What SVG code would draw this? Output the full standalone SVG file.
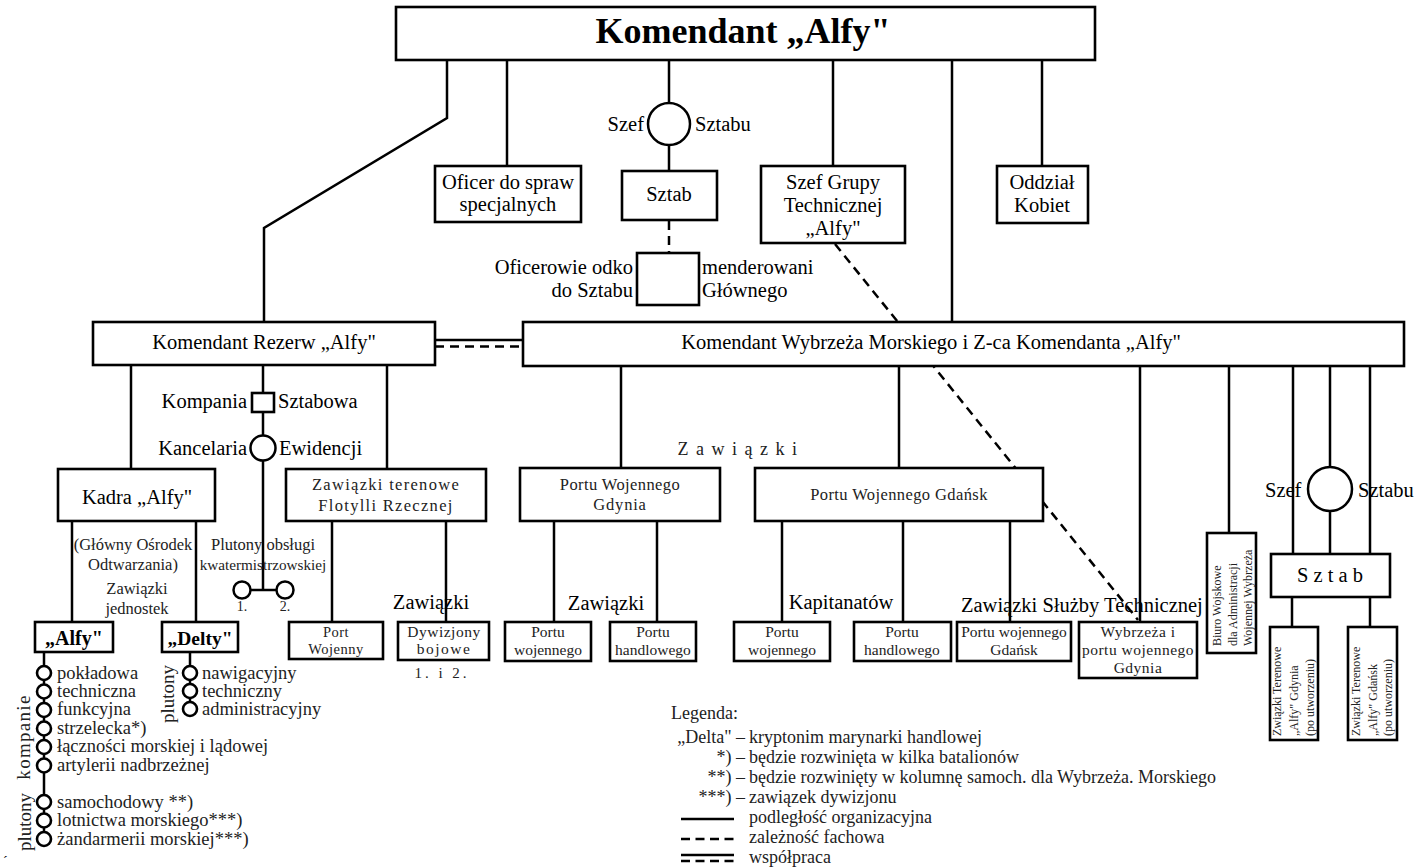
<svg xmlns="http://www.w3.org/2000/svg" width="1419" height="868" viewBox="0 0 1419 868">
<style>
text { font-family: "Liberation Serif", "Times New Roman", serif; fill: #000; }
.box { fill: #fff; stroke: #000; stroke-width: 2.6; }
.ln { stroke: #000; stroke-width: 2.5; fill: none; }
.dash { stroke: #000; stroke-width: 2.5; fill: none; stroke-dasharray: 9 6; }
.ring { fill: #fff; stroke: #000; stroke-width: 2.5; }
.chain { fill: #fff; stroke: #000; stroke-width: 2.6; }
.mid { text-anchor: middle; }
.end { text-anchor: end; }
.t20 { font-size: 20.5px; }
.t18 { font-size: 18.5px; }
.t17 { font-size: 18px; }
.t16 { font-size: 16.5px; }
.t15 { font-size: 15.5px; }
.t12 { font-size: 12px; }
.lt { fill: #222; }
.bold { font-weight: bold; }
</style>
<rect width="1419" height="868" fill="#fff"/>

<g id="connectors">
  <path class="ln" d="M447 60 V118 L264 228 V322"/>
  <path class="ln" d="M507 60 V166"/>
  <path class="ln" d="M669 60 V103 M669 145 V171"/>
  <path class="dash" d="M669 221 V253"/>
  <path class="ln" d="M833 60 V166"/>
  <path class="ln" d="M952 60 V322"/>
  <path class="ln" d="M1042 60 V166"/>
  <path class="dash" d="M835 244 L1138 620"/>
  <path class="ln" d="M435 340 H523"/>
  <path class="dash" d="M435 346.5 H523"/>
  <path class="ln" d="M131 365 V469"/>
  <path class="ln" d="M263 365 V590 M251 590 H276"/>
  <path class="ln" d="M387 365 V469"/>
  <path class="ln" d="M72 521 V622 M196 521 V622"/>
  <path class="ln" d="M332 521 V622 M446 521 V622"/>
  <path class="ln" d="M44 652 V832 M190 652 V703"/>
  <path class="ln" d="M621 366 V468 M899 366 V468 M1140 366 V622 M1229 366 V533"/>
  <path class="ln" d="M1293 366 V554 M1330 366 V467 M1330 511 V554 M1370 366 V554"/>
  <path class="ln" d="M554 521 V622 M657 521 V622 M782 521 V622 M903 521 V622 M1010 521 V622"/>
  <path class="ln" d="M1292 597 V627 M1370 597 V627"/>
</g>

<g id="n-komendant">
  <rect class="box" x="396" y="7" width="699" height="53" stroke-width="3"/>
  <text class="mid bold" x="743" y="43" font-size="36">Komendant „Alfy"</text>
</g>

<g id="n-szef-sztabu">
  <circle class="ring" cx="669" cy="124" r="21"/>
  <text class="end t20" x="644" y="131">Szef</text>
  <text class="t20" x="695" y="131">Sztabu</text>
</g>

<g id="n-oficer">
  <rect class="box" x="435" y="166" width="146" height="56"/>
  <text class="mid t20" x="508" y="189">Oficer do spraw</text>
  <text class="mid t20" x="508" y="211">specjalnych</text>
</g>

<g id="n-sztab">
  <rect class="box" x="622" y="171" width="95" height="49"/>
  <text class="mid t20" x="669" y="201">Sztab</text>
</g>

<g id="n-szef-grupy">
  <rect class="box" x="761" y="166" width="144" height="77"/>
  <text class="mid t20" x="833" y="189">Szef Grupy</text>
  <text class="mid t20" x="833" y="212">Technicznej</text>
  <text class="mid t20" x="833" y="235">„Alfy"</text>
</g>

<g id="n-oddzial">
  <rect class="box" x="997" y="166" width="91" height="57"/>
  <text class="mid t20" x="1042" y="189">Oddział</text>
  <text class="mid t20" x="1042" y="212">Kobiet</text>
</g>

<g id="n-oficerowie">
  <rect class="box" x="637" y="253" width="62" height="52"/>
  <text class="end t20" x="633" y="274">Oficerowie odko</text>
  <text class="end t20" x="633" y="297">do Sztabu</text>
  <text class="t20" x="702" y="274">menderowani</text>
  <text class="t20" x="702" y="297">Głównego</text>
</g>

<g id="n-rezerw">
  <rect class="box" x="93" y="322" width="342" height="43"/>
  <text class="mid t20" x="264" y="349">Komendant Rezerw „Alfy"</text>
</g>

<g id="n-wybrzeze">
  <rect class="box" x="523" y="322" width="881" height="44"/>
  <text class="mid t20" x="931" y="349">Komendant Wybrzeża Morskiego i Z-ca Komendanta „Alfy"</text>
</g>

<g id="n-kompania">
  <rect class="box" x="252" y="393" width="22" height="19"/>
  <text class="end t20" x="247" y="408">Kompania</text>
  <text class="t20" x="278" y="408">Sztabowa</text>
</g>

<g id="n-kancelaria">
  <circle class="ring" cx="263" cy="448" r="12.5"/>
  <text class="end t20" x="247" y="455">Kancelaria</text>
  <text class="t20" x="279" y="455">Ewidencji</text>
</g>

<g id="n-kadra">
  <rect class="box" x="58" y="469" width="157" height="52"/>
  <text class="mid t20" x="137" y="504">Kadra „Alfy"</text>
  <text class="mid t16 lt" x="133" y="550">(Główny Ośrodek</text>
  <text class="mid t16 lt" x="133" y="570">Odtwarzania)</text>
  <text class="mid lt" x="137" y="594" font-size="16.5">Zawiązki</text>
  <text class="mid lt" x="137" y="614" font-size="16.5">jednostek</text>
</g>

<g id="n-plutony-kw">
  <text class="mid t16 lt" x="263" y="550">Plutony obsługi</text>
  <text class="mid lt" x="263" y="570" font-size="15.2">kwatermistrzowskiej</text>
  <circle class="ring" cx="242" cy="590" r="8.5"/>
  <circle class="ring" cx="285" cy="590" r="8.5"/>
  <text class="mid lt" x="242" y="611" font-size="14">1.</text>
  <text class="mid lt" x="285" y="611" font-size="14">2.</text>
</g>

<g id="n-flotylla">
  <rect class="box" x="286" y="469" width="200" height="52"/>
  <text class="mid t16 lt" x="386" y="490" letter-spacing="1.3">Zawiązki terenowe</text>
  <text class="mid t16 lt" x="386" y="511" letter-spacing="1.3">Flotylli Rzecznej</text>
  <text class="mid t20" x="431" y="609">Zawiązki</text>
</g>

<g id="n-alfy">
  <rect class="box" x="35" y="622" width="78" height="30"/>
  <text class="mid bold" x="74" y="645" font-size="20">„Alfy"</text>
  <circle class="chain" cx="44" cy="673" r="7"/>
  <circle class="chain" cx="44" cy="691.5" r="7"/>
  <circle class="chain" cx="44" cy="710" r="7"/>
  <circle class="chain" cx="44" cy="728.5" r="7"/>
  <circle class="chain" cx="44" cy="747" r="7"/>
  <circle class="chain" cx="44" cy="765.5" r="7"/>
  <circle class="chain" cx="44" cy="802" r="7"/>
  <circle class="chain" cx="44" cy="820.5" r="7"/>
  <circle class="chain" cx="44" cy="839" r="7"/>
  <text class="t18 lt" x="57" y="679">pokładowa</text>
  <text class="t18 lt" x="57" y="697">techniczna</text>
  <text class="t18 lt" x="57" y="715">funkcyjna</text>
  <text class="t18 lt" x="57" y="734">strzelecka*)</text>
  <text class="t18 lt" x="57" y="752">łączności morskiej i lądowej</text>
  <text class="t18 lt" x="57" y="771">artylerii nadbrzeżnej</text>
  <text class="t18 lt" x="57" y="808">samochodowy **)</text>
  <text class="t18 lt" x="57" y="826">lotnictwa morskiego***)</text>
  <text class="t18 lt" x="57" y="845">żandarmerii morskiej***)</text>
  <text class="mid lt" transform="translate(30 737) rotate(-90)" font-size="19" letter-spacing="1.3">kompanie</text>
  <text class="mid lt" transform="translate(31 822) rotate(-90)" font-size="19">plutony</text>
</g>

<g id="n-delty">
  <rect class="box" x="162" y="622" width="76" height="30"/>
  <text class="mid bold" x="200" y="645" font-size="19.5">„Delty"</text>
  <circle class="chain" cx="190" cy="673" r="7"/>
  <circle class="chain" cx="190" cy="691" r="7"/>
  <circle class="chain" cx="190" cy="709" r="7"/>
  <text class="t18 lt" x="202" y="679">nawigacyjny</text>
  <text class="t18 lt" x="202" y="697">techniczny</text>
  <text class="t18 lt" x="202" y="715">administracyjny</text>
  <text class="mid lt" transform="translate(174 694) rotate(-90)" font-size="19">plutony</text>
</g>

<g id="n-port-wojenny">
  <rect class="box" x="289" y="622" width="94" height="37"/>
  <text class="mid lt" x="336" y="637" font-size="14.5" letter-spacing="0.5">Port</text>
  <text class="mid lt" x="336" y="654" font-size="14.5" letter-spacing="0.5">Wojenny</text>
</g>

<g id="n-dywizjony">
  <rect class="box" x="398" y="622" width="91" height="38"/>
  <text class="mid t15 lt" x="444" y="637" letter-spacing="0.5">Dywizjony</text>
  <text class="mid t15 lt" x="444" y="654" letter-spacing="1.5">bojowe</text>
  <text class="mid lt" x="442" y="678" font-size="15" letter-spacing="3">1. i 2.</text>
</g>

<g id="n-zawiazki-label">
  <text class="mid lt" x="738" y="455" font-size="18" letter-spacing="1.5">Z a w i ą z k i</text>
</g>

<g id="n-gdynia">
  <rect class="box" x="520" y="468" width="200" height="53"/>
  <text class="mid t16 lt" x="620" y="490" letter-spacing="0.4">Portu Wojennego</text>
  <text class="mid t16 lt" x="620" y="510" letter-spacing="0.8">Gdynia</text>
  <text class="mid t20" x="606" y="610">Zawiązki</text>
</g>

<g id="n-gdansk">
  <rect class="box" x="755" y="468" width="288" height="53"/>
  <text class="mid t16 lt" x="899" y="500" letter-spacing="0.4">Portu Wojennego Gdańsk</text>
  <text class="mid t20" x="841" y="609">Kapitanatów</text>
  <text class="t20" x="961" y="612" font-size="19.8">Zawiązki Służby Technicznej</text>
</g>

<g id="n-gdy-pw">
  <rect class="box" x="505" y="622" width="86" height="39"/>
  <text class="mid t15 lt" x="548" y="637">Portu</text>
  <text class="mid t15 lt" x="548" y="655">wojennego</text>
</g>
<g id="n-gdy-ph">
  <rect class="box" x="610" y="622" width="86" height="39"/>
  <text class="mid t15 lt" x="653" y="637">Portu</text>
  <text class="mid t15 lt" x="653" y="655">handlowego</text>
</g>
<g id="n-kap-pw">
  <rect class="box" x="734" y="622" width="96" height="39"/>
  <text class="mid t15 lt" x="782" y="637">Portu</text>
  <text class="mid t15 lt" x="782" y="655">wojennego</text>
</g>
<g id="n-kap-ph">
  <rect class="box" x="854" y="622" width="97" height="39"/>
  <text class="mid t15 lt" x="902" y="637">Portu</text>
  <text class="mid t15 lt" x="902" y="655">handlowego</text>
</g>
<g id="n-st-gdansk">
  <rect class="box" x="957" y="622" width="114" height="39"/>
  <text class="mid t15 lt" x="1014" y="637">Portu wojennego</text>
  <text class="mid t15 lt" x="1014" y="655">Gdańsk</text>
</g>
<g id="n-st-gdynia">
  <rect class="box" x="1079" y="622" width="118" height="56"/>
  <text class="mid t15 lt" x="1138" y="637" letter-spacing="0.5">Wybrzeża i</text>
  <text class="mid t15 lt" x="1138" y="655" letter-spacing="0.5">portu wojennego</text>
  <text class="mid t15 lt" x="1138" y="673" letter-spacing="0.5">Gdynia</text>
</g>

<g id="n-biuro">
  <rect class="box" x="1207" y="533" width="49" height="120"/>
  <text class="t12 lt" transform="translate(1221 646) rotate(-90)">Biuro Wojskowe</text>
  <text class="t12 lt" transform="translate(1237 646) rotate(-90)">dla Administracji</text>
  <text class="t12 lt" transform="translate(1252 646) rotate(-90)">Wojennej Wybrzeża</text>
</g>

<g id="n-szef-sztabu-2">
  <circle class="ring" cx="1330" cy="489" r="22"/>
  <text class="t20" x="1265" y="497">Szef</text>
  <text class="t20" x="1358" y="497">Sztabu</text>
</g>

<g id="n-sztab-2">
  <rect class="box" x="1271" y="554" width="119" height="43"/>
  <text class="mid t20" x="1330" y="582">S z t a b</text>
</g>

<g id="n-zw-gdynia">
  <rect class="box" x="1270" y="627" width="48" height="113"/>
  <text class="t12 lt" transform="translate(1281 736) rotate(-90)">Związki Terenowe</text>
  <text class="t12 lt" transform="translate(1298 736) rotate(-90)">„Alfy" Gdynia</text>
  <text class="t12 lt" transform="translate(1314 736) rotate(-90)">(po utworzeniu)</text>
</g>

<g id="n-zw-gdansk">
  <rect class="box" x="1348" y="627" width="49" height="113"/>
  <text class="t12 lt" transform="translate(1360 736) rotate(-90)">Związki Terenowe</text>
  <text class="t12 lt" transform="translate(1377 736) rotate(-90)">„Alfy" Gdańsk</text>
  <text class="t12 lt" transform="translate(1392 736) rotate(-90)">(po utworzeniu)</text>
</g>

<g id="legend">
  <text class="t17 lt" x="671" y="719">Legenda:</text>
  <text class="t17 lt end" x="745" y="743">„Delta" –</text>
  <text class="t17 lt" x="749" y="743">kryptonim marynarki handlowej</text>
  <text class="t17 lt end" x="745" y="763">*) –</text>
  <text class="t17 lt" x="749" y="763">będzie rozwinięta w kilka batalionów</text>
  <text class="t17 lt end" x="745" y="783">**) –</text>
  <text class="t17 lt" x="749" y="783">będzie rozwinięty w kolumnę samoch. dla Wybrzeża. Morskiego</text>
  <text class="t17 lt end" x="745" y="803">***) –</text>
  <text class="t17 lt" x="749" y="803">zawiązek dywizjonu</text>
  <path class="ln" d="M681 819 H734"/>
  <text class="t17 lt" x="749" y="823">podległość organizacyjna</text>
  <path class="ln" d="M681 839 H734" stroke-dasharray="9 5.5"/>
  <text class="t17 lt" x="749" y="843">zależność fachowa</text>
  <path class="ln" d="M681 855 H734"/>
  <path class="ln" d="M681 861 H734" stroke-dasharray="9 5.5"/>
  <text class="t17 lt" x="749" y="863">współpraca</text>
</g>

<text x="3" y="866" font-size="14" font-family="Liberation Serif, serif">´</text>
</svg>
